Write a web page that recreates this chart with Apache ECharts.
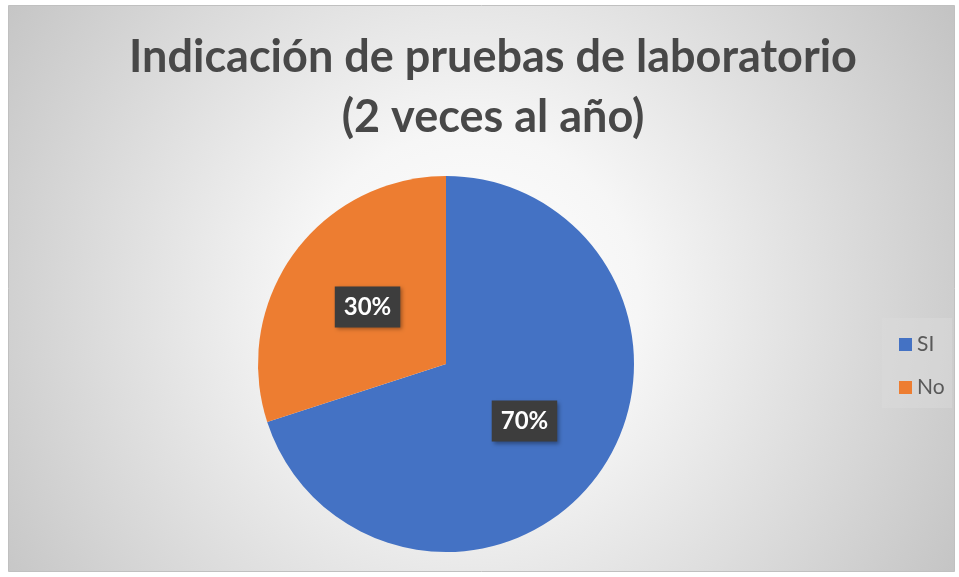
<!DOCTYPE html>
<html>
<head>
<meta charset="utf-8">
<script src="https://cdn.jsdelivr.net/npm/echarts@6/dist/echarts.min.js"></script>
<style>
  html, body { margin: 0; padding: 0; background: #fff; }
</style>
</head>
<body>
<div id="chart" style="width: 959px; height: 577px;"></div>
<script>
// data
const categories = ['SI', 'No'];
const values = [70, 30];
const colors = ['#4472C4', '#ED7D31'];
const titleLines = ['Indicación de pruebas de laboratorio', '(2 veces al año)'];

const myChart = echarts.init(document.getElementById('chart'));

const option = {
  backgroundColor: '#fff',
  animation: false,
  graphic: [
    {
      type: 'rect',
      z: -10,
      shape: { x: 8.5, y: 5.5, width: 946, height: 566 },
      style: {
        fill: {
          type: 'radial', x: 470, y: 300, r: 560, global: true,
          colorStops: [
            { offset: 0, color: '#ffffff' },
            { offset: 0.3, color: '#f6f6f6' },
            { offset: 1, color: '#c4c4c4' }
          ]
        },
        stroke: '#c0c0c0',
        lineWidth: 1
      }
    },
    {
      // legend box
      type: 'rect',
      z: -5,
      shape: { x: 882, y: 318, width: 70, height: 90 },
      style: { fill: 'rgba(220,220,220,0.45)' }
    }
  ],
  title: {
    text: titleLines.join('\n'),
    left: 488,
    textAlign: 'center',
    top: 22,
    textStyle: {
      fontFamily: 'Lato',
      fontWeight: 'bold',
      fontSize: 45,
      color: '#484848',
      lineHeight: 60
    }
  },
  legend: {
    orient: 'vertical',
    left: 894,
    top: 329,
    itemWidth: 13,
    itemHeight: 13,
    itemGap: 22,
    icon: 'rect',
    textStyle: { fontFamily: 'Lato', fontSize: 21, color: '#595959' },
    data: categories
  },
  series: [
    {
      type: 'pie',
      center: [446, 364],
      radius: 188,
      startAngle: 90,
      clockwise: true,
      color: colors,
      label: {
        show: true,
        position: 'inside',
        formatter: (p) => p.value + '%',
        fontFamily: 'Lato',
        fontWeight: 'bold',
        fontSize: 24,
        color: '#fff',
        backgroundColor: '#3d3d3d',
        padding: [9, 9, 8, 9],
        shadowColor: 'rgba(0,0,0,0.35)',
        shadowBlur: 4,
        shadowOffsetX: 2,
        shadowOffsetY: 2
      },
      labelLine: { show: false },
      emphasis: { disabled: true },
      data: categories.map((c, i) => ({ name: c, value: values[i] }))
    }
  ]
};

myChart.setOption(option);
</script>
</body>
</html>
